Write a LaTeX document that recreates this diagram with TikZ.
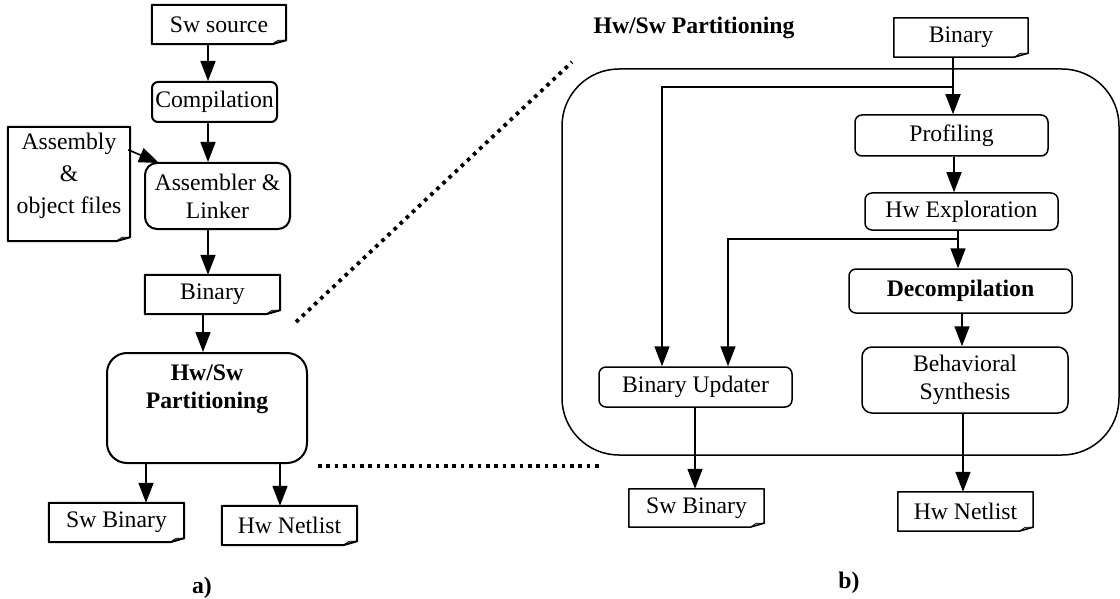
\documentclass[tikz,border=0pt]{standalone}
\usepackage{fontspec}
\setmainfont{Liberation Serif}
\usetikzlibrary{arrows.meta,calc}
\newcommand\docoutline[2]{%
  \fill[gray!55] ([xshift=-14pt]#1.south east) -- ([xshift=-8pt,yshift=4pt]#1.south east) -- ([yshift=4pt]#1.south east) -- cycle;
  \draw[line width=0.7pt] ([xshift=-14pt]#1.south east) -- ([xshift=-8pt,yshift=4pt]#1.south east) -- ([yshift=4pt]#1.south east);
  \draw[line width=#2, line join=round] (#1.north west) -- (#1.north east) -- ([yshift=4pt]#1.south east) -- ([xshift=-14pt]#1.south east) -- (#1.south west) -- cycle;
}
\begin{document}
\begin{tikzpicture}[x=1pt,y=-1pt,
  font=\fontsize{23.7}{28}\selectfont,
  sz/.style 2 args={minimum width=#1pt, minimum height=#2pt},
  lbox/.style={draw, line width=2pt, rounded corners=6pt, inner sep=0pt, align=center},
  rbox/.style={draw, line width=1.5pt, rounded corners=7pt, inner sep=0pt, align=center},
  docbox/.style={inner sep=0pt, align=center},
  arr/.style={line width=1.6pt, -{Triangle[length=20pt,width=15pt]}},
  dots/.style={line width=3.8pt, dash pattern=on 3.6pt off 4.8pt},
  ttl/.style={font=\fontsize{23.7}{28}\selectfont\bfseries}
]
\useasboundingbox (0,0) rectangle (1120,599);

% ---------- a) ----------
\node[docbox, sz={134}{39}] (swsrc) at (219,24.5) {Sw source};
\node[lbox, sz={125}{40}] (comp) at (214.5,102) {Compilation};
\node[lbox, sz={145}{66}, rounded corners=12pt] (asm) at (217.5,196) {Assembler \&\\Linker};
\node[docbox, sz={122}{114}] (asmf) at (69,184) {};
\node[align=center, inner sep=0pt] (asmft) at (69,176) {Assembly\\[4pt]\&\\[4pt]object files};
\node[docbox, sz={135}{39}] (bin1) at (212.5,294.5) {Binary};
\node[lbox, sz={200}{110}, rounded corners=20pt] (part1) at (207,408) {};
\node[ttl, align=center] (part1t) at (207,389) {Hw/Sw\\Partitioning};
\node[docbox, sz={135}{39}] (swbin1) at (116.5,522.5) {Sw Binary};
\node[docbox, sz={135}{39}] (hwnet1) at (289.5,525.5) {Hw Netlist};
\node[ttl] (la) at (202,588) {a)};

\docoutline{swsrc}{2pt}
\docoutline{asmf}{2pt}
\docoutline{bin1}{2pt}
\docoutline{swbin1}{2pt}
\docoutline{hwnet1}{2pt}

\coordinate (xa) at (208,0);
\coordinate (xb) at (203,0);
\coordinate (xc) at (146,0);
\coordinate (xd) at (280,0);
\draw[arr] (swsrc.south -| xa) -- (comp.north -| xa);
\draw[arr] (comp.south -| xa) -- (asm.north -| xa);
\draw[arr] ($(asmf.north east)+(-2,23)$) -- ($(asm.north west)+(15,1)$);
\draw[arr] (asm.south -| xa) -- (bin1.north -| xa);
\draw[arr] (bin1.south -| xb) -- (part1.north -| xb);
\draw[arr] (part1.south -| xc) -- (swbin1.north -| xc);
\draw[arr] (part1.south -| xd) -- (hwnet1.north -| xd);

% ---------- dotted zoom lines ----------
\coordinate (d1) at (296,322);
\coordinate (d2) at (572,62);
\coordinate (d3) at (318,466);
\coordinate (d4) at (602,466);
\draw[dots] (d1) -- (d2);
\draw[dots] (d3) -- (d4);

% ---------- b) ----------
\node[ttl] (ttl2) at (694,28) {Hw/Sw Partitioning};
\node[draw, line width=1.5pt, rounded corners=57pt, sz={557}{386}] (part2) at (840.5,262) {};
\node[docbox, sz={134}{39}] (bin2) at (961,37.5) {Binary};
\node[rbox, sz={193}{41}] (prof) at (951.5,135.5) {Profiling};
\node[rbox, sz={193}{37}] (hwexp) at (961.5,211.5) {Hw Exploration};
\node[rbox, sz={223}{44}, font=\fontsize{23.7}{28}\selectfont\bfseries] (decomp) at (960.5,291) {Decompilation};
\node[rbox, sz={206}{66}, rounded corners=10pt] (behav) at (965,380) {Behavioral\\Synthesis};
\node[rbox, sz={193}{40}] (binupd) at (695.5,387) {Binary Updater};
\node[docbox, sz={135}{38}] (swbin2) at (696.5,508) {Sw Binary};
\node[docbox, sz={135}{39}] (hwnet2) at (965.5,511.5) {Hw Netlist};
\node[ttl] (lb) at (849,583) {b)};

\docoutline{bin2}{1.5pt}
\docoutline{swbin2}{1.5pt}
\docoutline{hwnet2}{1.5pt}

\coordinate (j1) at (953,87);
\coordinate (j2) at (958,239);
\coordinate (xe) at (662,0);
\coordinate (xf) at (728,0);
\coordinate (xg) at (954,0);
\coordinate (xh) at (962,0);
\coordinate (xi) at (963,0);
\coordinate (xj) at (695,0);
\draw[arr] (bin2.south -| j1) -- (prof.north -| j1);
\draw[arr] (j1) -| (binupd.north -| xe);
\draw[arr] (prof.south -| xg) -- (hwexp.north -| xg);
\draw[arr] (hwexp.south -| j2) -- (decomp.north -| j2);
\draw[arr] (j2) -| (binupd.north -| xf);
\draw[arr] (decomp.south -| xh) -- (behav.north -| xh);
\draw[arr] (behav.south -| xi) -- (hwnet2.north -| xi);
\draw[arr] (binupd.south -| xj) -- (swbin2.north -| xj);
\end{tikzpicture}
\end{document}
